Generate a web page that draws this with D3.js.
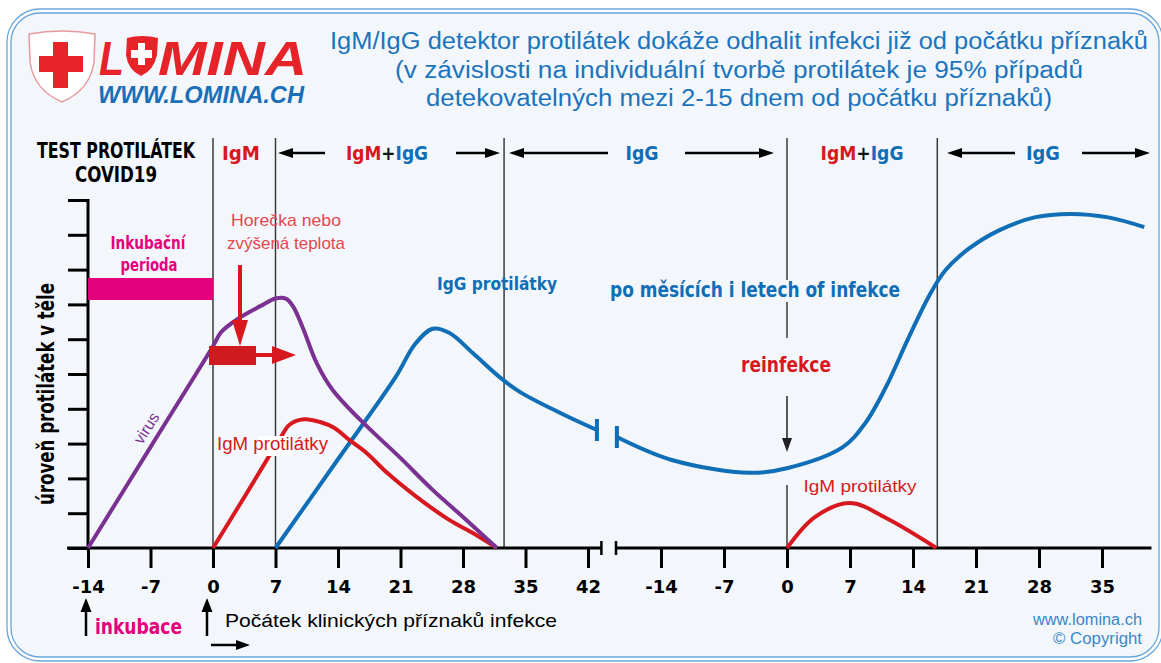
<!DOCTYPE html>
<html><head><meta charset="utf-8">
<script src="https://cdn.jsdelivr.net/npm/d3@7"></script>
<style>
html,body{margin:0;padding:0;background:#fff;}
svg{display:block;}
</style></head><body>
<svg id="c" width="1161" height="663"></svg>
<script>
// ---------- data ----------
const ticksLeft = [-14,-7,0,7,14,21,28,35,42];
const ticksRight = [-14,-7,0,7,14,21,28,35];
const levelTicks = [0,1,2,3,4,5,6,7,8,9,10];
const phaseLinesLeft = [0,7,32.6];
const phaseLinesRight = [0,16.7];
const virus = [[-14,0],[-7,2.9],[0,5.8],[0.9,6.2],[3,6.62],[5.3,6.95],[7,7.17],[8.2,7.16],[9,6.93],[10.1,6.3],[11.6,5.32],[13.4,4.54],[16.5,3.68],[20.9,2.61],[24.6,1.67],[28.4,0.8],[31.8,0]];
const igmLeft = [[0,0],[3.5,1.46],[7.4,3.1],[8.6,3.55],[10.2,3.7],[12,3.62],[13.6,3.45],[15.3,3.1],[17.2,2.73],[19.5,2.16],[22.8,1.47],[26.5,0.8],[29.1,0.43],[31.8,0]];
const iggLeft = [[7,0],[14,2.55],[20.5,4.93],[22.6,5.85],[24.6,6.3],[26.5,6.18],[29.1,5.6],[32.1,4.91],[34.4,4.48],[38.9,3.88],[43,3.39]];
const iggRight = [[-18.9,3.19],[-12.8,2.53],[-4.1,2.16],[0.1,2.3],[6.2,2.9],[8.7,3.59],[11,4.63],[13.4,5.98],[15.8,7.25],[17.6,7.98],[20.2,8.6],[23.5,9.12],[27.5,9.5],[31.5,9.6],[35.7,9.5],[39.7,9.22]];
const igmRight = [[0,0],[3.1,0.89],[7,1.29],[11,0.86],[16.6,0]];
const titleLines = ["IgM/IgG detektor protilátek dokáže odhalit infekci již od počátku příznaků","(v závislosti na individuální tvorbě protilátek je 95% případů","detekovatelných mezi 2-15 dnem od počátku příznaků)"];

// ---------- setup ----------
const svg = d3.select('#c');
const xL = d3.scaleLinear().domain([-14,42]).range([88,588]);
const xR = d3.scaleLinear().domain([-14,35]).range([661,1102]);
const y = d3.scaleLinear().domain([0,10]).range([548,200]);

const RED='#d7191f', BLUE='#0f6eb6', PURPLE='#7a3191', MAG='#e4007d', TBLUE='#1c74bc';
const COND="'Liberation Sans Narrow','DejaVu Sans Condensed','Arial Narrow',sans-serif";
const SANS="'Liberation Sans',Arial,Helvetica,sans-serif";

function arrow(g,x1,y1,x2,y2,color,w,hl,hw){
  const dx=x2-x1, dy=y2-y1, L=Math.hypot(dx,dy), ux=dx/L, uy=dy/L;
  const bx=x2-ux*hl, by=y2-uy*hl;
  g.append('line').attr('x1',x1).attr('y1',y1).attr('x2',bx+ux*1).attr('y2',by+uy*1)
    .attr('stroke',color).attr('stroke-width',w);
  g.append('path').attr('d',`M${x2},${y2}L${bx-uy*hw},${by+ux*hw}L${bx+uy*hw},${by-ux*hw}Z`).attr('fill',color);
}
function txt(g,x,yy,s,o){
  const t=g.append('text').attr('x',x).attr('y',yy).text(s)
    .attr('font-family',o.ff||SANS).attr('font-size',o.fs||16)
    .attr('font-weight',o.fw||'normal').attr('fill',o.fill||'#000')
    .attr('text-anchor',o.anchor||'start');
  if(o.len) t.attr('textLength',o.len).attr('lengthAdjust','spacingAndGlyphs');
  if(o.fst) t.attr('font-style',o.fst);
  return t;
}

// ---------- frame ----------
svg.append('rect').attr('x',7).attr('y',9).attr('width',1156).attr('height',652).attr('rx',33)
  .attr('fill','none').attr('stroke','#6aa6da').attr('stroke-width',1.3);
svg.append('rect').attr('x',11).attr('y',13).attr('width',1148).attr('height',644).attr('rx',29)
  .attr('fill','#f3f7fc').attr('stroke','#6aa6da').attr('stroke-width',1.3);

// ---------- logo ----------
const logo = svg.append('g');
logo.append('path').attr('d','M29,34 Q62,28 95,34 L94,62 Q90,90 62,102 Q34,90 30,62 Z')
  .attr('fill','#fff').attr('stroke','#e79a9e').attr('stroke-width',1.5);
logo.append('rect').attr('x',39).attr('y',56).attr('width',44).attr('height',16).attr('fill','#e52329');
logo.append('rect').attr('x',53).attr('y',42).attr('width',15).attr('height',46).attr('fill','#e52329');
txt(logo,99,75,'L',{fs:49,fw:'bold',fst:'italic',fill:'#e52329',len:25});
logo.append('path').attr('d','M127,38 Q142,34 158,38 L157,55 Q154,70 141,76 Q128,70 126,55 Z').attr('fill','#e52329');
logo.append('rect').attr('x',138).attr('y',43).attr('width',7).attr('height',22).attr('fill','#fff');
logo.append('rect').attr('x',131).attr('y',50).attr('width',21).attr('height',8).attr('fill','#fff');
txt(logo,158,75,'MINA',{fs:49,fw:'bold',fst:'italic',fill:'#e52329',len:149});
txt(logo,98,103,'WWW.LOMINA.CH',{fs:24,fw:'bold',fst:'italic',fill:'#1b6fb8',len:206});

// ---------- title ----------
const tb=[49,78,106], tl=[818,688,626];
titleLines.forEach((s,i)=>txt(svg,739,tb[i],s,{fs:23.5,fill:TBLUE,anchor:'middle',len:tl[i]}));

// ---------- phase lines ----------
const grid = svg.append('g').attr('stroke','#3a3a3a').attr('stroke-width',1.5);
phaseLinesLeft.forEach(d=>grid.append('line').attr('x1',xL(d)).attr('x2',xL(d)).attr('y1',138).attr('y2',y(0)));
grid.append('line').attr('x1',xR(phaseLinesRight[1])).attr('x2',xR(phaseLinesRight[1])).attr('y1',138).attr('y2',y(0));
[[138,280],[302,338],[485,548]].forEach(s=>grid.append('line').attr('x1',xR(0)).attr('x2',xR(0)).attr('y1',s[0]).attr('y2',s[1]));
arrow(svg,xR(0),396,xR(0),452,'#222',1.5,14,5);

// ---------- axes ----------
const axL = svg.append('g').attr('transform',`translate(0,${y(0)})`)
  .call(d3.axisBottom(xL).tickValues(ticksLeft).tickSize(20).tickPadding(12).tickFormat(d=>d));
const axR = svg.append('g').attr('transform',`translate(0,${y(0)})`)
  .call(d3.axisBottom(xR).tickValues(ticksRight).tickSize(20).tickPadding(12).tickFormat(d=>d));
[axL,axR].forEach(a=>{
  a.select('.domain').remove();
  a.selectAll('.tick line').attr('stroke','#000').attr('stroke-width',3);
  a.selectAll('.tick text').attr('font-family',"'DejaVu Sans',sans-serif").attr('font-weight','bold').attr('font-size',18).attr('fill','#000');
});
const axis = svg.append('g').attr('stroke','#000').attr('stroke-width',3);
axis.append('line').attr('x1',67).attr('x2',xL(43.5)).attr('y1',y(0)).attr('y2',y(0));
axis.append('line').attr('x1',xL(43.5)).attr('x2',xL(43.5)).attr('y1',y(0)-7).attr('y2',y(0)+7).attr('stroke-width',2.5);
axis.append('line').attr('x1',xR(-19)).attr('x2',xR(40.5)).attr('y1',y(0)).attr('y2',y(0));
axis.append('line').attr('x1',xR(-19)).attr('x2',xR(-19)).attr('y1',y(0)-7).attr('y2',y(0)+7).attr('stroke-width',2.5);

const ay = svg.append('g').attr('transform',`translate(${xL(-14)},0)`)
  .call(d3.axisLeft(y).tickValues(levelTicks).tickSize(20).tickFormat(''));
ay.select('.domain').remove();
ay.selectAll('.tick line').attr('stroke','#000').attr('stroke-width',3);
axis.append('line').attr('x1',xL(-14)).attr('x2',xL(-14)).attr('y1',y(10)-1).attr('y2',y(0));

// ---------- header ----------
txt(svg,116,158,'TEST PROTILÁTEK',{ff:COND,fw:'bold',fs:21,anchor:'middle',len:158});
txt(svg,116,182,'COVID19',{ff:COND,fw:'bold',fs:21,anchor:'middle',len:82});
function igmigg(x,len){
  const t=txt(svg,x,160,'',{ff:COND,fw:'bold',fs:20,anchor:'middle',len:len});
  t.append('tspan').attr('fill',RED).text('IgM');
  t.append('tspan').attr('fill','#111').text('+');
  t.append('tspan').attr('fill',BLUE).text('IgG');
}
txt(svg,241,160,'IgM',{ff:COND,fw:'bold',fs:20,fill:RED,anchor:'middle',len:38});
igmigg(387,82);
igmigg(862,83);
txt(svg,642,160,'IgG',{ff:COND,fw:'bold',fs:20,fill:BLUE,anchor:'middle',len:33});
txt(svg,1043,160,'IgG',{ff:COND,fw:'bold',fs:20,fill:BLUE,anchor:'middle',len:34});
arrow(svg,325,153,278,153,'#000',2.5,15,5);
arrow(svg,456,153,500,153,'#000',2.5,15,5);
arrow(svg,608,153,509,153,'#000',2.5,15,5);
arrow(svg,685,153,774,153,'#000',2.5,15,5);
arrow(svg,1015,153,947,153,'#000',2.5,15,5);
arrow(svg,1082,153,1150,153,'#000',2.5,15,5);

// ---------- y label ----------
txt(svg,0,0,'úroveň protilátek v těle',{ff:COND,fw:'bold',fs:23,anchor:'middle',len:222})
  .attr('transform','translate(54,394) rotate(-90)');

// ---------- incubation ----------
svg.append('rect').attr('x',xL(-14)).attr('y',278).attr('width',xL(0)-xL(-14)).attr('height',22).attr('fill',MAG);
txt(svg,148,249,'Inkubační',{ff:COND,fw:'bold',fs:18,fill:MAG,anchor:'middle',len:75});
txt(svg,149,271,'perioda',{ff:COND,fw:'bold',fs:18,fill:MAG,anchor:'middle',len:57});
txt(svg,286,226,'Horečka nebo',{fs:17,fill:'#e4474e',anchor:'middle',len:110});
txt(svg,286,249,'zvýšená teplota',{fs:17,fill:'#e4474e',anchor:'middle',len:118});

// ---------- curves ----------
const lineL = d3.line().x(d=>xL(d[0])).y(d=>y(d[1])).curve(d3.curveCatmullRom.alpha(0.5));
const lineR = d3.line().x(d=>xR(d[0])).y(d=>y(d[1])).curve(d3.curveCatmullRom.alpha(0.5));
const cv = svg.append('g').attr('fill','none').attr('stroke-width',4).attr('stroke-linecap','butt');
cv.append('path').attr('d',lineL(iggLeft)).attr('stroke',BLUE);
cv.append('path').attr('d',lineL(igmLeft)).attr('stroke',RED);
cv.append('path').attr('d',lineL(virus)).attr('stroke',PURPLE);
cv.append('path').attr('d',lineR(iggRight)).attr('stroke',BLUE);
cv.append('path').attr('d',lineR(igmRight)).attr('stroke',RED);
// break caps
const lastL = iggLeft[iggLeft.length-1], firstR = iggRight[0];
cv.append('line').attr('x1',xL(lastL[0])).attr('x2',xL(lastL[0])).attr('y1',y(lastL[1])-11).attr('y2',y(lastL[1])+11).attr('stroke',BLUE);
cv.append('line').attr('x1',xR(firstR[0])).attr('x2',xR(firstR[0])).attr('y1',y(firstR[1])-11).attr('y2',y(firstR[1])+11).attr('stroke',BLUE);

// ---------- fever marker ----------
svg.append('rect').attr('x',209).attr('y',346).attr('width',47).attr('height',19).attr('fill','#cf1a1f');
arrow(svg,240,265,240,346,RED,4,26,8);
arrow(svg,256,355,296,355,RED,4,24,9);

// ---------- labels ----------
txt(svg,0,0,'virus',{fs:16,fill:PURPLE,anchor:'middle'}).attr('transform','translate(151,431) rotate(-58)');
svg.append('rect').attr('x',258).attr('y',436).attr('width',35).attr('height',20).attr('fill','#fff');
txt(svg,217,450,'IgM protilátky',{fs:18,fill:RED,len:111});
txt(svg,497,290,'IgG protilátky',{ff:COND,fw:'bold',fs:18,fill:BLUE,anchor:'middle',len:120});
txt(svg,755,297,'po měsících i letech of infekce',{ff:COND,fw:'bold',fs:21,fill:BLUE,anchor:'middle',len:290});
txt(svg,786,372,'reinfekce',{ff:COND,fw:'bold',fs:21,fill:RED,anchor:'middle',len:90});
txt(svg,860,492,'IgM protilátky',{fs:17,fill:RED,anchor:'middle',len:113});

// ---------- bottom ----------
arrow(svg,86,636,86,598,'#000',2.5,14,5.5);
arrow(svg,207,636,207,598,'#000',2.5,14,5.5);
arrow(svg,211,645,250,645,'#000',2.5,14,5);
txt(svg,95,634,'inkubace',{ff:COND,fw:'bold',fs:21,fill:MAG,len:87});
txt(svg,225,627,'Počátek klinických příznaků infekce',{fs:19,fill:'#000',len:332});
txt(svg,1142,625,'www.lomina.ch',{fs:16,fill:'#3a87c8',anchor:'end',len:109});
txt(svg,1142,644,'© Copyright',{fs:16,fill:'#3a87c8',anchor:'end',len:89});
</script>
</body></html>
